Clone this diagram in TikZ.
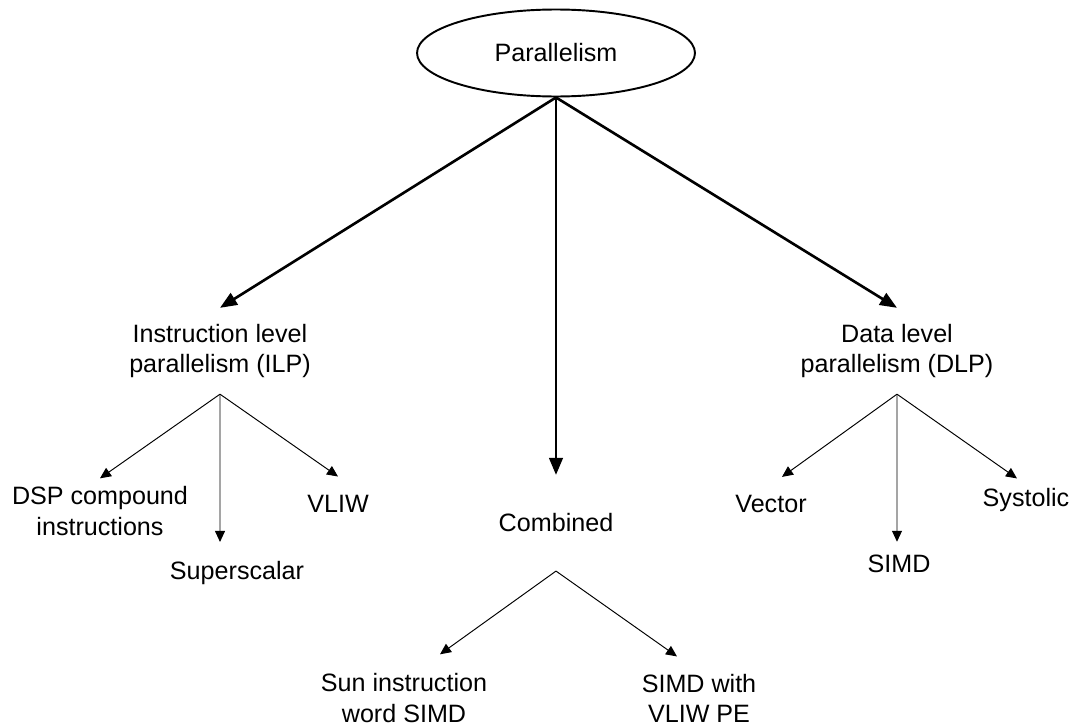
\documentclass[tikz,border=0pt]{standalone}
\usepackage{fontspec}
\setmainfont{Liberation Sans}
\usetikzlibrary{arrows.meta,shapes.geometric}

\begin{document}
\begin{tikzpicture}[x=0.02cm, y=-0.02cm,
	txt/.style={font=\fontsize{14.3}{17.2}\selectfont, align=center, inner xsep=0pt, inner ysep=#1},
	txt/.default=0.32cm,
	bigarrow/.style={-{Triangle[length=0.34cm,width=0.27cm]}, line width=1.5pt},
	smallarrow/.style={-{Triangle[length=0.22cm,width=0.2cm]}, line width=0.55pt}]

	\useasboundingbox (0,0) rectangle (1076,727);

	% Parallelism ellipse
	\node[ellipse, draw, line width=1.1pt, minimum width=5.56cm, minimum height=1.74cm, inner sep=0pt, font=\fontsize{14.3}{17.2}\selectfont] (par) at (556,53) {Parallelism};

	% three kinds
	\node[txt] (ilp) at (220,351) {Instruction level\\parallelism (ILP)};
	\node[txt=0.77cm] (comb) at (556,523) {Combined};
	\node[txt] (dlp) at (897,351) {Data level\\parallelism (DLP)};

	% ILP leaves
	\node[txt=0.16cm] (dsp) at (100,511) {DSP compound\\instructions};
	\node[txt=0.38cm] (sup) at (237,573) {Superscalar};
	\node[txt=0.37cm] (vliw) at (338,504) {VLIW};

	% Combined leaves
	\node[txt=0.38cm] (sun) at (404,698) {Sun instruction\\word SIMD};
	\node[txt=0.34cm] (simdvliw) at (699,698) {SIMD with\\VLIW PE};

	% DLP leaves
	\node[txt=0.36cm] (vec) at (771,504) {Vector};
	\node[txt=0.26cm] (simd) at (899,564) {SIMD};
	\node[txt=0.19cm] (sys) at (1026,500) {Systolic};

	% Arrows from the root
	\draw[bigarrow] (par.south) -- (ilp.north);
	\draw[bigarrow] (par.south) -- (comb.north);
	\draw[bigarrow] (par.south) -- (dlp.north);

	% Arrows to the leaves
	\draw[smallarrow] (ilp.south) -- (dsp.north);
	\draw[smallarrow] (ilp.south) -- ([xshift=-0.34cm]sup.north);
	\draw[smallarrow] (ilp.south) -- (vliw.north);
	\draw[smallarrow] (comb.south) -- ([xshift=0.72cm]sun.north);
	\draw[smallarrow] (comb.south) -- ([xshift=-0.44cm]simdvliw.north);
	\draw[smallarrow] (dlp.south) -- ([xshift=0.22cm]vec.north);
	\draw[smallarrow] (dlp.south) -- ([xshift=-0.04cm]simd.north);
	\draw[smallarrow] (dlp.south) -- ([xshift=-0.18cm]sys.north);
\end{tikzpicture}
\end{document}
